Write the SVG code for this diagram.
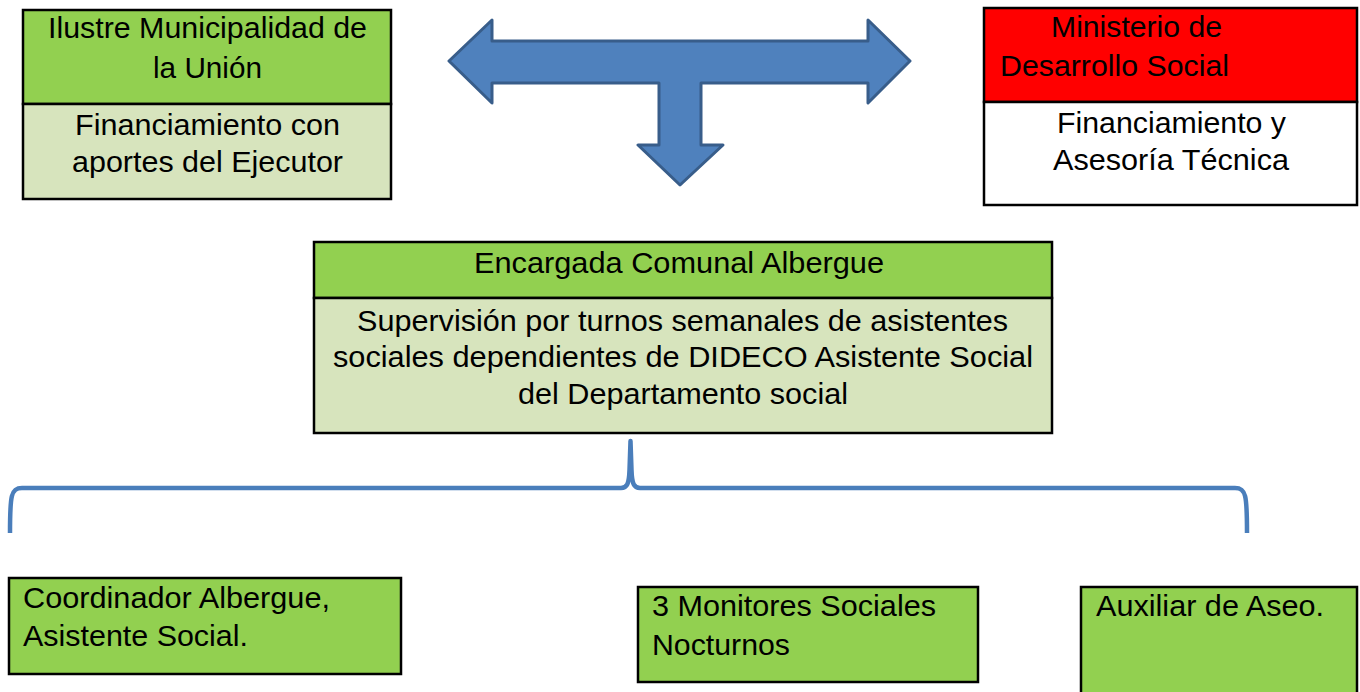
<svg xmlns="http://www.w3.org/2000/svg" width="1360" height="692" viewBox="0 0 1360 692">
<style>
.g{fill:#92D050;stroke:#000;stroke-width:2.5}
.lg{fill:#D7E4BD;stroke:#000;stroke-width:2.5}
.r{fill:#FF0000;stroke:#000;stroke-width:2.5}
.w{fill:#FFFFFF;stroke:#000;stroke-width:2.5}
text{font-family:"Liberation Sans",Arial,sans-serif;font-size:29px;fill:#000}
.arrow{fill:#4F81BD;stroke:#385D8A;stroke-width:3;stroke-linejoin:round}
.brace{fill:none;stroke:#4A7EBB;stroke-width:4.5;stroke-linejoin:round}
</style>
<rect width="1360" height="692" fill="#fff"/>
<g id="municipalidad">
<rect class="g" x="23" y="10" width="368" height="94"/>
<rect class="lg" x="23" y="104" width="368" height="95"/>
<text x="48" y="38" textLength="319" lengthAdjust="spacingAndGlyphs">Ilustre Municipalidad de</text>
<text x="153" y="78" textLength="109" lengthAdjust="spacingAndGlyphs">la Unión</text>
<text x="75" y="135" textLength="265" lengthAdjust="spacingAndGlyphs">Financiamiento con</text>
<text x="72" y="172" textLength="271" lengthAdjust="spacingAndGlyphs">aportes del Ejecutor</text>
</g>
<g id="ministerio">
<rect class="r" x="984" y="8" width="373" height="94"/>
<rect class="w" x="984" y="102" width="373" height="103"/>
<text x="1051" y="37" textLength="171" lengthAdjust="spacingAndGlyphs">Ministerio de</text>
<text x="1000" y="76" textLength="229" lengthAdjust="spacingAndGlyphs">Desarrollo Social</text>
<text x="1057" y="133" textLength="229" lengthAdjust="spacingAndGlyphs">Financiamiento y</text>
<text x="1053" y="170" textLength="236" lengthAdjust="spacingAndGlyphs">Asesoría Técnica</text>
</g>
<g id="encargada">
<rect class="g" x="314" y="242" width="738" height="56"/>
<rect class="lg" x="314" y="298" width="738" height="135"/>
<text x="474" y="273" textLength="410" lengthAdjust="spacingAndGlyphs">Encargada Comunal Albergue</text>
<text x="357" y="331" textLength="651" lengthAdjust="spacingAndGlyphs">Supervisión por turnos semanales de asistentes</text>
<text x="333" y="367" textLength="700" lengthAdjust="spacingAndGlyphs">sociales dependientes de DIDECO Asistente Social</text>
<text x="518" y="404" textLength="330" lengthAdjust="spacingAndGlyphs">del Departamento social</text>
</g>
<g id="coordinador">
<rect class="g" x="9" y="578" width="392" height="96"/>
<text x="23" y="608" textLength="307" lengthAdjust="spacingAndGlyphs">Coordinador Albergue,</text>
<text x="23" y="646" textLength="225" lengthAdjust="spacingAndGlyphs">Asistente Social.</text>
</g>
<g id="monitores">
<rect class="g" x="638" y="587" width="340" height="95"/>
<text x="652" y="616" textLength="284" lengthAdjust="spacingAndGlyphs">3 Monitores Sociales</text>
<text x="652" y="655" textLength="138" lengthAdjust="spacingAndGlyphs">Nocturnos</text>
</g>
<g id="auxiliar">
<rect class="g" x="1081" y="587" width="276" height="110"/>
<text x="1096" y="616" textLength="228" lengthAdjust="spacingAndGlyphs">Auxiliar de Aseo.</text>
</g>
<g id="connectors">
<path class="arrow" d="M449,61 L492,20 L492,41 L868,41 L868,20 L910,61 L868,103 L868,83 L701,83 L701,145 L723,145 L680,185 L638,145 L659,145 L659,83 L492,83 L492,103 Z"/>
<path class="brace" d="M10,533 C10,495 11,488 22,488 L621,488 C627,488 629,484 629.5,470 L630.5,441 L631.5,470 C632,484 634,488 640,488 L1235,488 C1246,488 1247,495 1247,533"/>
</g>
</svg>
